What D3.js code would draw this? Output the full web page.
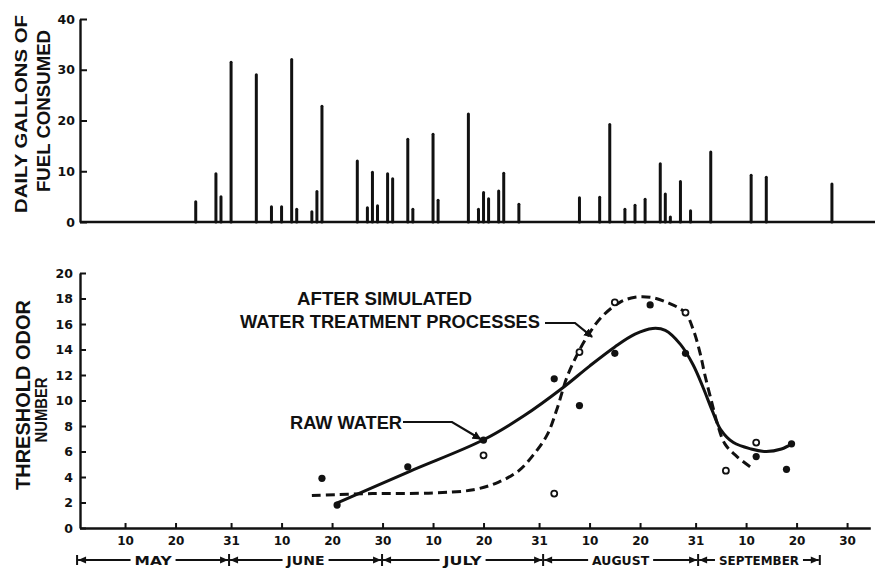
<!DOCTYPE html>
<html>
<head>
<meta charset="utf-8">
<script src="https://cdn.jsdelivr.net/npm/d3@7"></script>
<style>
  html, body { margin: 0; padding: 0; background: #fff; }
  svg { display: block; }
  text { font-family: "DejaVu Sans", "Liberation Sans", sans-serif; font-weight: bold; fill: #111; }
  .title { font-family: "Liberation Sans", "DejaVu Sans", sans-serif; }
</style>
</head>
<body>
<svg id="chart" width="875" height="575"></svg>
<script>
// Season days are counted from May 1 (day 0).

// Daily fuel consumption (gallons)
const fuelDays    = [23, 27, 28, 30, 35, 38, 40, 42, 43, 46, 47, 48, 55, 57, 58, 59, 61, 62, 65, 66, 70, 71,
                     77, 79, 80, 81, 83, 84, 87, 99, 103, 105, 108, 110, 112, 115, 116, 117, 119, 121, 125, 133, 136, 149];
const fuelGallons = [4, 9.5, 5, 31.5, 29, 3, 3, 32, 2.5, 2, 6, 22.8, 12, 2.8, 9.8, 3.2, 9.5, 8.5, 16.3, 2.5, 17.3, 4.3,
                     21.3, 2.5, 5.8, 4.6, 6.1, 9.6, 3.5, 4.8, 4.9, 19.2, 2.5, 3.3, 4.5, 11.5, 5.5, 1, 8, 2.2, 13.8, 9.2, 8.8, 7.5];

// Threshold odor samples
const rawDays      = [48, 51, 65, 80, 94, 99, 106, 113, 120, 134, 140, 141];
const rawOdor      = [3.9, 1.8, 4.8, 6.9, 11.7, 9.6, 13.7, 17.5, 13.7, 5.6, 4.6, 6.6];
const treatedDays  = [80, 94, 99, 106, 120, 128, 134];
const treatedOdor  = [5.7, 2.7, 13.8, 17.7, 16.9, 4.5, 6.7];

// Smoothed trend curves
const rawCurveDays     = [50.6, 65.4, 79.9, 88, 95.7, 101, 106, 110, 113.5, 116, 119, 121.5, 123.5, 125.3, 127, 129.5, 133, 136, 139, 141.1];
const rawCurveOdor     = [1.9, 4.45, 6.9, 8.8, 11.0, 12.7, 14.2, 15.2, 15.65, 15.5, 14.4, 12.8, 11.0, 9.2, 7.7, 6.7, 6.2, 6.0, 6.2, 6.6];
const treatedCurveDays = [46, 58, 70, 78, 83, 87, 90, 92.6, 94.6, 96.5, 98.8, 101, 103.5, 107, 110, 113, 116.3, 119.9, 121.5, 122.9, 123.9, 125.3, 126.3, 127.8, 130.2, 132.8];
const treatedCurveOdor = [2.55, 2.7, 2.75, 3.0, 3.6, 4.5, 5.8, 7.3, 9.4, 11.8, 13.8, 15.3, 16.6, 17.7, 18.1, 18.1, 17.7, 16.9, 15.6, 13.7, 11.9, 9.7, 8.2, 6.6, 5.6, 4.8];

// Axis ticks
const fuelTicks = [0, 10, 20, 30, 40];
const odorTicks = [0, 2, 4, 6, 8, 10, 12, 14, 16, 18, 20];
const dateTickDays   = [9, 19, 30, 40, 50, 60, 70, 80, 91, 101, 111, 122, 132, 142, 152];
const dateTickLabels = ["10", "20", "31", "10", "20", "30", "10", "20", "31", "10", "20", "31", "10", "20", "30"];

// Month brackets under the date axis
const monthNames  = ["MAY", "JUNE", "JULY", "AUGUST", "SEPTEMBER"];
const monthBounds = [-0.5, 29.6, 59.9, 91.8, 122.5, 146.6];
const monthLabelWidths = [37, 38, 38, 57, 80];

const svg = d3.select("#chart");
const ink = "#111";

const x = d3.scaleLinear().domain([0, 156.6]).range([79.6, 870.3]);
const yF = d3.scaleLinear().domain([0, 40]).range([222, 19]);
const yO = d3.scaleLinear().domain([0, 20]).range([528, 273]);

// arrowhead marker
const defs = svg.append("defs");
defs.append("marker")
  .attr("id", "arrow").attr("viewBox", "0 0 10 10")
  .attr("refX", 9).attr("refY", 5)
  .attr("markerWidth", 4).attr("markerHeight", 4)
  .attr("markerUnits", "strokeWidth")
  .attr("orient", "auto")
  .append("path").attr("d", "M0,0 L10,5 L0,10 Z").attr("fill", ink);

function styleAxis(g, fontSize) {
  g.attr("font-size", null).attr("font-family", null);
  g.select(".domain").attr("stroke", ink).attr("stroke-width", 2.4);
  g.selectAll(".tick line").attr("stroke", ink).attr("stroke-width", 2);
  g.selectAll(".tick text").style("font-size", fontSize + "px").attr("fill", ink);
}

// ---------- Upper panel: fuel consumption ----------
const upper = svg.append("g");

upper.append("line")
  .attr("x1", 80).attr("x2", 875)
  .attr("y1", yF(0)).attr("y2", yF(0))
  .attr("stroke", ink).attr("stroke-width", 2.4);

upper.append("g")
  .attr("transform", "translate(80,0)")
  .call(d3.axisLeft(yF).tickValues(fuelTicks).tickSizeInner(-7).tickSizeOuter(0).tickPadding(5))
  .call(g => styleAxis(g, 12.5));

upper.append("g").selectAll("line")
  .data(fuelDays.map((d, i) => ({ d, v: fuelGallons[i] })))
  .join("line")
  .attr("x1", p => x(p.d)).attr("x2", p => x(p.d))
  .attr("y1", yF(0)).attr("y2", p => yF(p.v))
  .attr("stroke", ink).attr("stroke-width", 3).attr("stroke-linecap", "round");

upper.append("text").attr("class", "title")
  .attr("transform", "translate(27,114) rotate(-90)")
  .attr("text-anchor", "middle").attr("textLength", 198).attr("lengthAdjust", "spacingAndGlyphs")
  .style("font-size", "17px").text("DAILY GALLONS OF");
upper.append("text").attr("class", "title")
  .attr("transform", "translate(50,111) rotate(-90)")
  .attr("text-anchor", "middle").attr("textLength", 162).attr("lengthAdjust", "spacingAndGlyphs")
  .style("font-size", "17.5px").text("FUEL  CONSUMED");

// ---------- Lower panel: threshold odor ----------
const lower = svg.append("g");

lower.append("g")
  .attr("transform", `translate(0,${yO(0)})`)
  .call(d3.axisBottom(x).tickValues(dateTickDays).tickFormat((d, i) => dateTickLabels[i])
    .tickSizeInner(-5).tickSizeOuter(0).tickPadding(8))
  .call(g => styleAxis(g, 12));

lower.append("g")
  .attr("transform", "translate(80,0)")
  .call(d3.axisLeft(yO).tickValues(odorTicks).tickSizeInner(-6).tickSizeOuter(0).tickPadding(7))
  .call(g => styleAxis(g, 12.5));

lower.append("text").attr("class", "title")
  .attr("transform", "translate(30,395) rotate(-90)")
  .attr("text-anchor", "middle").attr("textLength", 190).attr("lengthAdjust", "spacingAndGlyphs")
  .style("font-size", "20px").text("THRESHOLD ODOR");
lower.append("text").attr("class", "title")
  .attr("transform", "translate(46.5,410) rotate(-90)")
  .attr("text-anchor", "middle").attr("textLength", 65).attr("lengthAdjust", "spacingAndGlyphs")
  .style("font-size", "16px").text("NUMBER");

// trend curves
const curve = d3.line().x(p => x(p[0])).y(p => yO(p[1])).curve(d3.curveCatmullRom.alpha(0.5));

lower.append("path")
  .datum(treatedCurveDays.map((d, i) => [d, treatedCurveOdor[i]]))
  .attr("d", curve)
  .attr("fill", "none").attr("stroke", ink).attr("stroke-width", 3)
  .attr("stroke-dasharray", "9,5");

lower.append("path")
  .datum(rawCurveDays.map((d, i) => [d, rawCurveOdor[i]]))
  .attr("d", curve)
  .attr("fill", "none").attr("stroke", ink).attr("stroke-width", 3);

// sample points
lower.append("g").selectAll("circle")
  .data(rawDays.map((d, i) => [d, rawOdor[i]]))
  .join("circle")
  .attr("cx", p => x(p[0])).attr("cy", p => yO(p[1])).attr("r", 3.6)
  .attr("fill", ink);

lower.append("g").selectAll("circle")
  .data(treatedDays.map((d, i) => [d, treatedOdor[i]]))
  .join("circle")
  .attr("cx", p => x(p[0])).attr("cy", p => yO(p[1])).attr("r", 3)
  .attr("fill", "#fff").attr("stroke", ink).attr("stroke-width", 1.8);

// labels with leader arrows
lower.append("text").attr("class", "title")
  .attr("x", 297).attr("y", 305).attr("textLength", 175).attr("lengthAdjust", "spacingAndGlyphs")
  .style("font-size", "17.5px").text("AFTER SIMULATED");
lower.append("text").attr("class", "title")
  .attr("x", 240).attr("y", 327.5).attr("textLength", 300).attr("lengthAdjust", "spacingAndGlyphs")
  .style("font-size", "17.5px").text("WATER TREATMENT PROCESSES");
lower.append("text").attr("class", "title")
  .attr("x", 290).attr("y", 428.5).attr("textLength", 112).attr("lengthAdjust", "spacingAndGlyphs")
  .style("font-size", "17.5px").text("RAW WATER");

const tipT = [x(101.5), yO(15.3) + 4];
lower.append("path")
  .attr("d", `M545,323 H575 L${tipT[0]},${tipT[1]}`)
  .attr("fill", "none").attr("stroke", ink).attr("stroke-width", 2.2)
  .attr("marker-end", "url(#arrow)");

const tipR = [x(rawDays[3]) - 3, yO(rawOdor[3]) - 1];
lower.append("path")
  .attr("d", `M403,422 H452 L${tipR[0]},${tipR[1]}`)
  .attr("fill", "none").attr("stroke", ink).attr("stroke-width", 2.2)
  .attr("marker-end", "url(#arrow)");

// month brackets
const my = 560;
const months = lower.append("g");
function head(xTip, dir) {
  // dir = +1 points right, -1 points left
  months.append("path")
    .attr("d", `M${xTip},${my} L${xTip - dir * 8},${my - 3.5} L${xTip - dir * 8},${my + 3.5} Z`)
    .attr("fill", ink);
}
monthBounds.forEach((b, i) => {
  const xb = x(b);
  const h = (i === 0 || i === monthBounds.length - 1) ? 5 : 6;
  months.append("line")
    .attr("x1", xb).attr("x2", xb).attr("y1", my - h).attr("y2", my + h)
    .attr("stroke", ink).attr("stroke-width", 2);
});
monthNames.forEach((name, i) => {
  const x0 = x(monthBounds[i]), x1 = x(monthBounds[i + 1]);
  const cx = (x0 + x1) / 2;
  const w = monthLabelWidths[i];
  months.append("line")
    .attr("x1", x0 + 1).attr("x2", cx - w / 2 - 4).attr("y1", my).attr("y2", my)
    .attr("stroke", ink).attr("stroke-width", 2);
  months.append("line")
    .attr("x1", cx + w / 2 + 4).attr("x2", x1 - 1).attr("y1", my).attr("y2", my)
    .attr("stroke", ink).attr("stroke-width", 2);
  head(x0 + 1, -1);
  head(x1 - 1, 1);
  months.append("text")
    .attr("x", cx - w / 2).attr("y", my + 4.5)
    .attr("textLength", w).attr("lengthAdjust", "spacingAndGlyphs")
    .style("font-size", "12px").text(name);
});
</script>
</body>
</html>
